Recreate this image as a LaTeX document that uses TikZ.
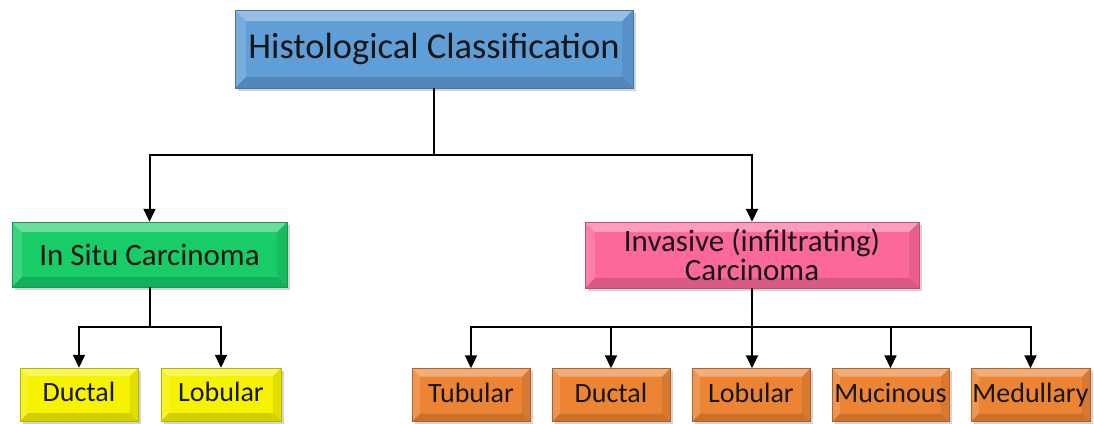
\documentclass[tikz,border=0pt]{standalone}
\usepackage{fontspec}
\setmainfont{Carlito}
\usepackage{xcolor}
\usetikzlibrary{arrows.meta, shadows}

\definecolor{titleblue}{RGB}{96,158,216}
\definecolor{situgreen}{RGB}{24,204,104}
\definecolor{invpink}{RGB}{252,104,154}
\definecolor{subyellow}{RGB}{246,242,0}
\definecolor{suborange}{RGB}{236,132,52}
\definecolor{inkgray}{RGB}{22,22,22}

\tikzset{
  bevel/.style={
    path picture={
      \path (path picture bounding box.north west) coordinate (bnw)
            (path picture bounding box.south east) coordinate (bse);
      \fill[white,opacity=0.35] (bnw) -- (bnw -| bse) -- ([shift={(-#1,-#1)}]bnw -| bse) -- ([shift={(#1,-#1)}]bnw) -- cycle;
      \fill[white,opacity=0.15] (bnw) -- ([shift={(#1,-#1)}]bnw) -- ([shift={(#1,#1)}]bnw |- bse) -- (bnw |- bse) -- cycle;
      \fill[black,opacity=0.08] (bnw -| bse) -- (bse) -- ([shift={(-#1,#1)}]bse) -- ([shift={(-#1,-#1)}]bnw -| bse) -- cycle;
      \fill[black,opacity=0.14] (bnw |- bse) -- ([shift={(#1,#1)}]bnw |- bse) -- ([shift={(-#1,#1)}]bse) -- (bse) -- cycle;
    }},
  classbox/.style={draw=#1!75!black, line width=0.5pt, fill=#1, inner sep=0pt,
    text=inkgray, align=center,
    drop shadow={shadow xshift=2.5pt, shadow yshift=-2.5pt, opacity=0.35}},
  leafbox/.style={classbox=#1, bevel=8pt, minimum width=118pt, minimum height=53pt,
    font=\fontsize{28}{28}\selectfont, text height=19pt, text depth=5pt},
  arr/.style={line width=2pt, -{Triangle[length=13pt,width=12pt]}},
  link/.style={line width=2pt}
}

\begin{document}
\begin{tikzpicture}[x=1pt,y=-1pt]
        \useasboundingbox (0,0) rectangle (1094,423);

        %Shape: Rectangle, top level
        \node (title) [classbox=titleblue, bevel=11pt, minimum width=398pt, minimum height=78pt,
              font=\fontsize{36.5}{36.5}\selectfont] at (434,49) {Histological Classification};

        %Shape: Rectangle, second level
        \node (insitu) [classbox=situgreen, bevel=10pt, minimum width=275pt, minimum height=65pt,
              font=\fontsize{31}{31}\selectfont] at (149.5,254.5) {In Situ Carcinoma};
        \node (invasive) [classbox=invpink, bevel=10pt, minimum width=334pt, minimum height=66pt,
              font=\fontsize{31}{29}\selectfont] at (752,255) {Invasive (infiltrating)\\Carcinoma};

        %Shape: Rectangle, in situ types
        \node (isductal) [leafbox=subyellow] at (79,394.5) {Ductal};
        \node (islobular) [leafbox=subyellow, minimum width=120pt] at (221,394.5) {Lobular};

        %Shape: Rectangle, invasive types
        \node (tubular) [leafbox=suborange] at (471,395) {Tubular};
        \node (ductal) [leafbox=suborange] at (611,395) {Ductal};
        \node (lobular) [leafbox=suborange] at (751,395) {Lobular};
        \node (mucinous) [leafbox=suborange, minimum width=117pt] at (890.5,395) {Mucinous};
        \node (medullary) [leafbox=suborange, minimum width=119pt] at (1030.5,395) {Medullary};

        %Connectors
        \coordinate (topsplit) at (434,155);
        \coordinate (situsplit) at (149.5,327);
        \coordinate (invsplit) at (752,327);

        \draw [link] (title.south) -- (topsplit);
        \draw [arr] (topsplit) -| (insitu.north);
        \draw [arr] (topsplit) -| (invasive.north);

        \draw [link] (insitu.south) -- (situsplit);
        \draw [arr] (situsplit) -| (isductal.north);
        \draw [arr] (situsplit) -| (islobular.north);

        \draw [link] (invasive.south) -- (invsplit);
        \draw [arr] (invsplit) -| (tubular.north);
        \draw [arr] (invsplit) -| (ductal.north);
        \draw [arr] (invsplit) -- ([xshift=1pt]lobular.north);
        \draw [arr] (invsplit) -| (mucinous.north);
        \draw [arr] (invsplit) -| (medullary.north);

\end{tikzpicture}
\end{document}
